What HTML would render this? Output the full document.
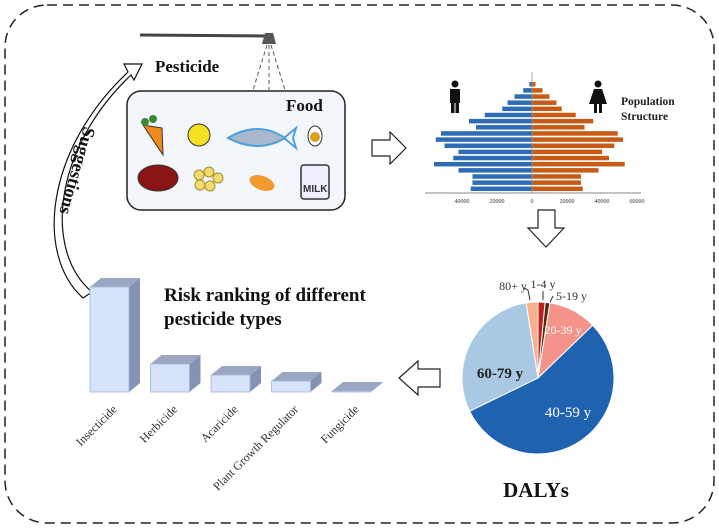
<!DOCTYPE html>
<html><head><meta charset="utf-8"><style>
body{margin:0;background:#fff;}
svg{display:block;font-family:"Liberation Serif",serif;}
</style></head><body>
<svg width="719" height="528" viewBox="0 0 719 528">
<rect x="5" y="5" width="709" height="518" rx="42" fill="none" stroke="#222" stroke-width="1.5" stroke-dasharray="10,6"/>

<!-- suggestion arrow -->
<path d="M83,298 C35,255 45,150 128,72 L124,64 L142,64 L134,80 L131,75 C52,150 44,252 92,292 Z" fill="#fff" stroke="#111" stroke-width="1.2"/>
<text x="0" y="0" transform="translate(84,126) rotate(106)" font-size="18" font-weight="bold" fill="#111">Suggestions</text>

<!-- sprayer -->
<line x1="140" y1="35" x2="268" y2="36" stroke="#444" stroke-width="3"/>
<polygon points="265,33 273,33 276,44 262,44" fill="#555"/>
<g stroke="#555" stroke-dasharray="4,3">
<line x1="267" y1="45" x2="253" y2="90"/><line x1="269" y1="45" x2="269" y2="90"/><line x1="271" y1="45" x2="285" y2="90"/></g>
<text x="155" y="72" font-size="17" font-weight="bold" fill="#111">Pesticide</text>

<!-- food box -->
<rect x="127" y="91" width="218" height="119" rx="14" fill="#f3f6fb" stroke="#222" stroke-width="1.5"/>
<text x="286" y="111" font-size="17" font-weight="bold" fill="#111">Food</text>
<g>
<polygon points="143,125 162,128 163,155" fill="#f08a1c" stroke="#333"/>
<circle cx="145" cy="122" r="4" fill="#3a8a3a"/><circle cx="153" cy="119" r="4" fill="#3a8a3a"/>
<circle cx="199" cy="135" r="11" fill="#f5e021" stroke="#333"/>
<path d="M228,138 Q258,120 285,138 Q258,154 228,138Z" fill="#a9b8cc" stroke="#4ea0dd" stroke-width="2"/>
<polygon points="284,138 296,128 293,138 296,148" fill="none" stroke="#4ea0dd" stroke-width="2"/>
<ellipse cx="315" cy="136" rx="7" ry="10" fill="#fff" stroke="#333"/><circle cx="315" cy="137" r="5" fill="#d9a01a"/>
<ellipse cx="158" cy="178" rx="20" ry="13" fill="#8a1414" stroke="#333"/>
<g fill="#f2dc6e" stroke="#a0902a"><circle cx="199" cy="175" r="5"/><circle cx="209" cy="172" r="5"/><circle cx="218" cy="178" r="5"/><circle cx="210" cy="186" r="5"/><circle cx="200" cy="185" r="5"/></g>
<ellipse cx="262" cy="183" rx="13" ry="7" transform="rotate(20 262 183)" fill="#f09a30"/>
<rect x="301" y="165" width="28" height="34" rx="3" fill="#eef" stroke="#333" stroke-width="1.5"/>
<text x="303" y="192" font-family="Liberation Sans,sans-serif" font-size="10" font-weight="bold" fill="#333">MILK</text>
</g>

<!-- arrows -->
<polygon points="372,140 390,140 390,132 406,148 390,164 390,156 372,156" fill="#fff" stroke="#222" stroke-width="1.2"/>
<polygon points="538,210 555,210 555,228 564,228 546,247 528,228 538,228" fill="#fff" stroke="#222" stroke-width="1.2"/>
<polygon points="440,369 418,369 418,361 399,378 418,395 418,387 440,387" fill="#fff" stroke="#222" stroke-width="1.2"/>

<!-- people icons -->
<g fill="#111"><circle cx="455" cy="84" r="3.5"/><rect x="450" y="89" width="10" height="14"/><rect x="451" y="102" width="3.5" height="11"/><rect x="455.5" y="102" width="3.5" height="11"/></g>
<g fill="#111"><circle cx="598" cy="84" r="3.5"/><polygon points="594,89 602,89 607,104 589,104"/><rect x="594" y="103" width="3" height="10"/><rect x="599" y="103" width="3" height="10"/></g>
<text x="621" y="105" font-size="11.5" font-weight="bold" fill="#222"><tspan x="621">Population</tspan><tspan x="621" dy="15">Structure</tspan></text>
<g id="pyr"></g>

<!-- pie -->
<g id="pie"></g>
<text x="536" y="497" text-anchor="middle" font-size="21" font-weight="bold" fill="#111">DALYs</text>

<!-- bars -->
<text x="164" y="301" font-size="19" font-weight="bold" fill="#111"><tspan x="164">Risk ranking of different</tspan><tspan x="164" dy="24">pesticide types</tspan></text>
<g id="bars"></g>
</svg>
<script>
const NS='http://www.w3.org/2000/svg';
function mk(t,a,p){const e=document.createElementNS(NS,t);for(const k in a)e.setAttribute(k,a[k]);p.appendChild(e);return e;}

// population pyramid (values in thousands, top = oldest)
const maleValues=[1.5,5,10,14,17,27,36,32,52,55,50,42,45,56,42,34,34,35];
const femaleValues=[2,6,10,14,17,25,35,30,49,52,47,40,44,53,38,28,28,29];
const pyrTicks=[-40000,-20000,0,20000,40000,60000];
const pyrTickLabels=['40000','20000','0','20000','40000','60000'];
(function(){
const g=document.getElementById('pyr');const cx=532,sc=35/20,top=82,step=6.15,bh=4.5;
const px=v=>cx+v*sc;
maleValues.forEach((v,i)=>{const r=mk('rect',{x:px(-v),y:top+i*step,width:v*sc,height:bh,fill:'#2e6db5'},g);

});
femaleValues.forEach((v,i)=>{const r=mk('rect',{x:cx,y:top+i*step,width:v*sc,height:bh,fill:'#c85a14'},g);

});
mk('line',{x1:cx,y1:72,x2:cx,y2:193,stroke:'#999','stroke-width':0.8},g);
mk('line',{x1:425,y1:193,x2:641,y2:193,stroke:'#888','stroke-width':1},g);
pyrTicks.forEach((t,i)=>{const tx=mk('text',{x:px(t/1000),y:203,'text-anchor':'middle','font-size':6,fill:'#333'},g);tx.textContent=pyrTickLabels[i];

});
})();

// pie (percent, clockwise from top)
const pieLabels=['1-4 y','5-19 y','20-39 y','40-59 y','60-79 y','80+ y'];
const pieValues=[1.5,1,10.3,55,29.7,2.5];
const pieColors=['#c0201c','#5a2a10','#f4938a','#1f63b0','#a9c8e3','#f6b08e'];
(function(){
const g=document.getElementById('pie');const cx=538,cy=378,r=76;let a=0;
const pt=(f,rr)=>[cx+rr*Math.sin(f*2*Math.PI),cy-rr*Math.cos(f*2*Math.PI)];
const tot=pieValues.reduce((s,v)=>s+v,0);
pieValues.forEach((v,i)=>{const f0=a/tot,f1=(a+v)/tot;a+=v;const p0=pt(f0,r),p1=pt(f1,r);
const s=mk('path',{d:`M${cx},${cy}L${p0[0]},${p0[1]}A${r},${r} 0 ${f1-f0>0.5?1:0} 1 ${p1[0]},${p1[1]}Z`,fill:pieColors[i],stroke:'#fff','stroke-width':1},g);

});
const lab=[[543,288,'#333',12,'normal'],[556,300,'#333',12,'normal'],[563,334,'#fff',12,'normal'],[568,417,'#fff',15,'normal'],[500,378,'#222',15,'bold'],[513,290,'#333',12,'normal']];
pieLabels.forEach((t,i)=>{const L=lab[i];const tx=mk('text',{x:L[0],y:L[1],'text-anchor':i==1?'start':'middle','font-size':L[3],'font-weight':L[4],fill:L[2]},g);tx.textContent=t;

});
mk('path',{d:'M543,291 L543,300 M553,296 L550,302 M524,288 L528,290 L530,300',stroke:'#333',fill:'none','stroke-width':1},g);
})();

// 3D bars
const barCategories=['Insecticide','Herbicide','Acaricide','Plant Growth Regulator','Fungicide'];
const barValues=[105,28,17,11,1];
(function(){
const g=document.getElementById('bars');const base=392,x0=90,step=60.5,w=39,dx=11,dy=9,sc=1;
barCategories.forEach((c,i)=>{const x=x0+i*step,h=barValues[i]*sc,y=base-h;
const grp=mk('g',{},g);


mk('polygon',{points:`${x+w},${y} ${x+w+dx},${y-dy} ${x+w+dx},${base-dy} ${x+w},${base}`,fill:'#8493b3'},grp);
mk('polygon',{points:`${x},${y} ${x+dx},${y-dy} ${x+w+dx},${y-dy} ${x+w},${y}`,fill:'#9aa6c2'},grp);
mk('rect',{x:x,y:y,width:w,height:Math.max(h,0.5),fill:'#d6e3fb',stroke:'#9fb6dd','stroke-width':0.8},grp);
const tx=mk('text',{x:0,y:0,transform:`translate(${x+w/2+8},${base+18}) rotate(-45)`,'text-anchor':'end','font-size':12,fill:'#333'},g);tx.textContent=c;

});
})();
</script>
</body></html>
